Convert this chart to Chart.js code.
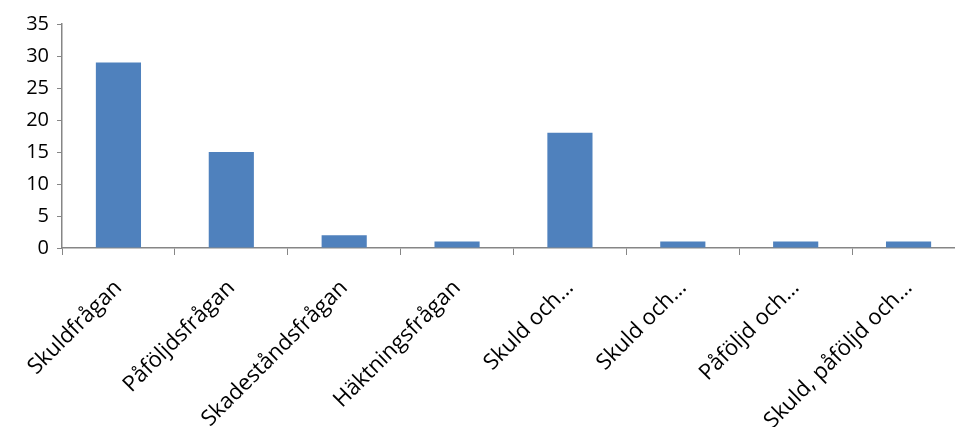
<!DOCTYPE html>
<html>
<head>
<meta charset="utf-8">
<script src="https://cdn.jsdelivr.net/npm/chart.js@4/dist/chart.umd.min.js"></script>
<style>
    html, body { margin: 0; padding: 0; background: #fff; overflow: hidden; }
    #wrap { width: 970px; height: 427px; position: relative; }
</style>
</head>
<body>
<div id="wrap"><canvas id="questionChart"></canvas></div>
<script>
// Categories and counts
const categories = [
    'Skuldfrågan',
    'Påföljdsfrågan',
    'Skadeståndsfrågan',
    'Häktningsfrågan',
    'Skuld och…',
    'Skuld och…',
    'Påföljd och…',
    'Skuld, påföljd och…'
];
const counts = [29, 15, 2, 1, 18, 1, 1, 1];
const yTicks = [0, 5, 10, 15, 20, 25, 30, 35];

const axisColor = '#868686';
const barColor = '#4F81BD';

document.addEventListener('DOMContentLoaded', function() {
    const ctx = document.getElementById('questionChart');

    new Chart(ctx, {
        type: 'bar',
        data: {
            labels: categories,
            datasets: [{
                data: counts,
                backgroundColor: barColor,
                borderWidth: 0,
                barPercentage: 0.4,
                categoryPercentage: 1.0
            }]
        },
        options: {
            responsive: true,
            maintainAspectRatio: false,
            animation: false,
            layout: {
                padding: { top: 24, right: 5, left: 0, bottom: 0 }
            },
            plugins: {
                legend: { display: false },
                tooltip: { enabled: false }
            },
            scales: {
                x: {
                    grid: {
                        drawOnChartArea: false,
                        drawTicks: true,
                        tickLength: 7,
                        color: axisColor,
                        offset: true
                    },
                    border: { color: axisColor, width: 1.5 },
                    ticks: {
                        color: '#000',
                        font: { family: 'Open Sans', size: 22 },
                        minRotation: 45,
                        maxRotation: 45,
                        autoSkip: false,
                        padding: 20
                    },
                    afterFit: function(scale) {
                        scale.height = 179;
                    }
                },
                y: {
                    min: 0,
                    max: 35,
                    afterBuildTicks: function(scale) {
                        scale.ticks = yTicks.map(v => ({ value: v }));
                    },
                    grid: {
                        drawOnChartArea: false,
                        drawTicks: true,
                        tickLength: 5,
                        color: axisColor
                    },
                    border: { color: axisColor, width: 1.5 },
                    ticks: {
                        color: '#000',
                        font: { family: 'Open Sans', size: 20 },
                        padding: 8
                    },
                    afterFit: function(scale) {
                        scale.width = 62;
                    }
                }
            }
        }
    });
});
</script>
</body>
</html>
